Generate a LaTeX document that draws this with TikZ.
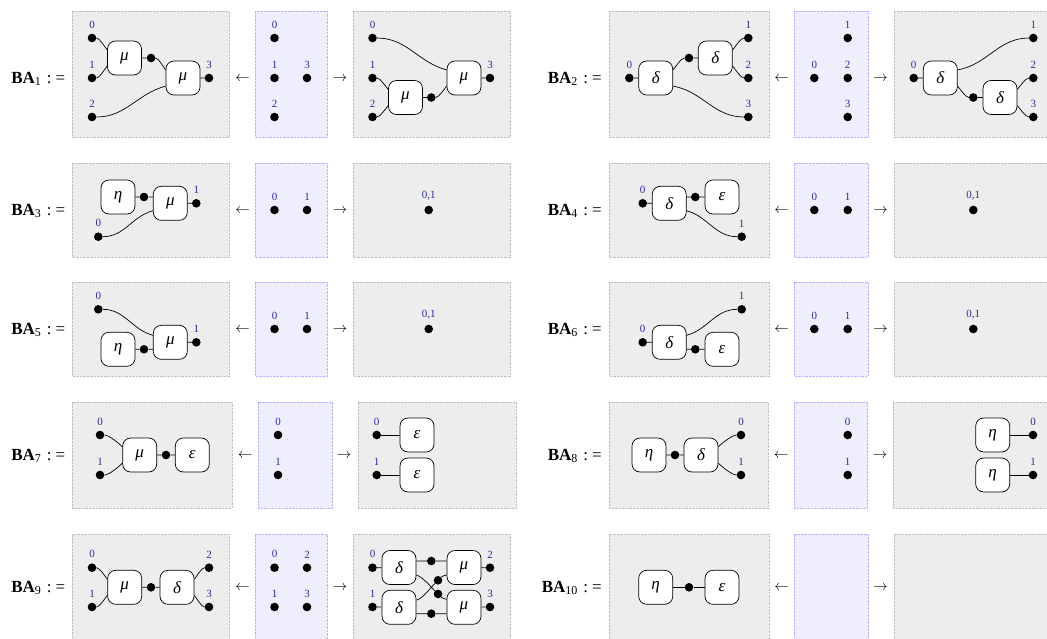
\documentclass[tikz,border=0pt]{standalone}
\usepackage{fontspec}
\setmainfont{Liberation Serif}
\usetikzlibrary{positioning}
\definecolor{panelgray}{HTML}{EDEDED}
\definecolor{panelblue}{HTML}{EEEEFC}
\definecolor{numblue}{HTML}{2B2B9B}
\newcommand{\baname}[1]{\textbf{BA}\raisebox{-2.6pt}{\fontsize{12}{12}\selectfont #1}\kern6pt:\kern4pt=}
\tikzset{
x=1pt, y=-1pt, % one unit is one pixel of the reference
outer/.style={draw=black!25, fill=panelgray, line width=0.9pt, dash pattern=on 2.5pt off 1pt}, % the gray panels
inner/.style={draw=blue!30, fill=panelblue, line width=0.9pt, dash pattern=on 2.5pt off 1pt}, % the blue panels
dot/.style={circle, fill=black, inner sep=0pt, minimum size=8.6pt}, % the black points
box/.style={draw, fill=white, rectangle, rounded corners=8pt, inner sep=0pt, minimum size=34pt, line width=0.7pt, font=\fontsize{17}{20}\selectfont\itshape},
wire/.style={line width=0.7pt},
short/.style={looseness=0.5}, % the wires that leave a dot and enter a box close by
num/.style={text=numblue, inner sep=0pt, font=\fontsize{11}{12}\selectfont},
every label/.style={num},
label distance=5pt,
title/.style={anchor=base east, inner sep=0pt, font=\fontsize{17}{20}\selectfont},
harrow/.style={anchor=base, inner sep=0pt, yshift=0.6pt, font=\fontsize{13.5}{16}\selectfont},
}
\begin{document}
\begin{tikzpicture}
    \useasboundingbox (0,0) rectangle (1047,638);
    % panels
    \draw[outer] (72,11) rectangle (229,137);
    \draw[inner] (255,11) rectangle (327,137);
    \draw[outer] (353,11) rectangle (510,137);
    \draw[outer] (609,11) rectangle (769,137);
    \draw[inner] (794,11) rectangle (868,137);
    \draw[outer] (894,11) rectangle (1054,137);
    \draw[outer] (72,163) rectangle (229,257);
    \draw[inner] (255,163) rectangle (327,257);
    \draw[outer] (353,163) rectangle (510,257);
    \draw[outer] (609,163) rectangle (769,257);
    \draw[inner] (794,163) rectangle (868,257);
    \draw[outer] (894,163) rectangle (1054,257);
    \draw[outer] (72,282) rectangle (229,376);
    \draw[inner] (255,282) rectangle (327,376);
    \draw[outer] (353,282) rectangle (510,376);
    \draw[outer] (609,282) rectangle (769,376);
    \draw[inner] (794,282) rectangle (868,376);
    \draw[outer] (894,282) rectangle (1054,376);
    \draw[outer] (72,402) rectangle (232,508);
    \draw[inner] (258,402) rectangle (332,508);
    \draw[outer] (358,402) rectangle (516,508);
    \draw[outer] (609,402) rectangle (768,508);
    \draw[inner] (794,402) rectangle (867,508);
    \draw[outer] (893,402) rectangle (1054,508);
    \draw[outer] (72,534) rectangle (229,645);
    \draw[inner] (255,534) rectangle (327,645);
    \draw[outer] (353,534) rectangle (510,645);
    \draw[outer] (609,534) rectangle (769,645);
    \draw[inner] (794,534) rectangle (868,645);
    \draw[outer] (894,534) rectangle (1054,645);

    % titles and arrows
    \node[title] (t1) at (65.5,83) {\baname{1}};
    \node[harrow] (l1) at (242.5,82) {$\leftarrow$};
    \node[harrow] (g1) at (340,82) {$\rightarrow$};
    \node[title] (t2) at (602,83) {\baname{2}};
    \node[harrow] (l2) at (781.5,82) {$\leftarrow$};
    \node[harrow] (g2) at (880.5,82) {$\rightarrow$};
    \node[title] (t3) at (65.5,215) {\baname{3}};
    \node[harrow] (l3) at (242.5,214) {$\leftarrow$};
    \node[harrow] (g3) at (340,214) {$\rightarrow$};
    \node[title] (t4) at (602,215) {\baname{4}};
    \node[harrow] (l4) at (781.5,214) {$\leftarrow$};
    \node[harrow] (g4) at (880.5,214) {$\rightarrow$};
    \node[title] (t5) at (65.5,334) {\baname{5}};
    \node[harrow] (l5) at (242.5,333) {$\leftarrow$};
    \node[harrow] (g5) at (340,333) {$\rightarrow$};
    \node[title] (t6) at (602,334) {\baname{6}};
    \node[harrow] (l6) at (781.5,333) {$\leftarrow$};
    \node[harrow] (g6) at (880.5,333) {$\rightarrow$};
    \node[title] (t7) at (65.5,460) {\baname{7}};
    \node[harrow] (l7) at (245,459) {$\leftarrow$};
    \node[harrow] (g7) at (344,459) {$\rightarrow$};
    \node[title] (t8) at (602,460) {\baname{8}};
    \node[harrow] (l8) at (781,459) {$\leftarrow$};
    \node[harrow] (g8) at (880,459) {$\rightarrow$};
    \node[title] (t9) at (65.5,592) {\baname{9}};
    \node[harrow] (l9) at (242.5,591) {$\leftarrow$};
    \node[harrow] (g9) at (340,591) {$\rightarrow$};
    \node[title] (t10) at (602,592) {\baname{10}};
    \node[harrow] (l10) at (781.5,591) {$\leftarrow$};
    \node[harrow] (g10) at (880.5,591) {$\rightarrow$};

    % BA1
    \node[dot, label=above:0] (a0) at (92,38) {};
    \node[dot, label=above:1] (a1) at (92,78) {};
    \node[dot, label=above:2] (a2) at (92,117) {};
    \node[box] (am) at (124.5,58) {μ};
    \node[dot] (ac) at (151,58) {};
    \node[box] (an) at (183,78) {μ};
    \node[dot, label=above:3] (a3) at (209,78) {};
    \draw[wire]
    (a0) to[short, out=0, in=130] (am.155)
    (a1) to[short, out=0, in=230] (am.205)
    (am.east |- ac) -- (ac)
    (ac) to[short, out=0, in=130] (an.155)
    (a2) to[out=0, in=195] (an.205)
    (an) -- (a3);
    \node[dot, label=above:0] (b0) at (274.5,38) {};
    \node[dot, label=above:1] (b1) at (274.5,78) {};
    \node[dot, label=above:2] (b2) at (274.5,117) {};
    \node[dot, label=above:3] (b3) at (307,78) {};
    \node[dot, label=above:0] (c0) at (372.5,38) {};
    \node[dot, label=above:1] (c1) at (372.5,78) {};
    \node[dot, label=above:2] (c2) at (372.5,117) {};
    \node[box] (cm) at (405.5,97.5) {μ};
    \node[dot] (cc) at (431.3,97.5) {};
    \node[box] (cn) at (464,78) {μ};
    \node[dot, label=above:3] (c3) at (490,78) {};
    \draw[wire]
    (c0) to[out=0, in=165] (cn.155)
    (c1) to[short, out=0, in=130] (cm.155)
    (c2) to[short, out=0, in=230] (cm.205)
    (cm) -- (cc)
    (cc) to[short, out=0, in=230] (cn.205)
    (cn) -- (c3);

    % BA2
    \node[dot, label=above:0] (d0) at (629.3,78) {};
    \node[box] (dm) at (655.7,78) {δ};
    \node[dot] (dc) at (689,58) {};
    \node[box] (dn) at (715.3,58) {δ};
    \node[dot, label=above:1] (d1) at (748.3,38) {};
    \node[dot, label=above:2] (d2) at (748.3,78) {};
    \node[dot, label=above:3] (d3) at (748.3,117) {};
    \draw[wire]
    (d0) -- (dm)
    (dm.25) to[short, out=50, in=180] (dc)
    (dc) -- (dn)
    (dn.25) to[short, out=50, in=180] (d1)
    (dn.335) to[short, out=-50, in=180] (d2)
    (dm.335) to[out=-10, in=180] (d3);
    \node[dot, label=above:0] (e0) at (814.3,78) {};
    \node[dot, label=above:1] (e1) at (847.7,38) {};
    \node[dot, label=above:2] (e2) at (847.7,78) {};
    \node[dot, label=above:3] (e3) at (847.7,117) {};
    \node[dot, label=above:0] (f0) at (913.7,78) {};
    \node[box] (fm) at (940.3,78) {δ};
    \node[dot] (fc) at (973.3,97.5) {};
    \node[box] (fn) at (1000,97.5) {δ};
    \node[dot, label=above:1] (f1) at (1033.3,38) {};
    \node[dot, label=above:2] (f2) at (1033.3,78) {};
    \node[dot, label=above:3] (f3) at (1033.3,117) {};
    \draw[wire]
    (f0) -- (fm)
    (fm.25) to[out=10, in=180] (f1)
    (fm.335) to[short, out=-50, in=180] (fc)
    (fc) -- (fn)
    (fn.25) to[short, out=50, in=180] (f2)
    (fn.335) to[short, out=-50, in=180] (f3);

    % BA3
    \node[box] (ge) at (118,197) {η};
    \node[dot] (gc) at (144,197) {};
    \node[box] (gm) at (170.3,203.3) {μ};
    \node[dot, label=above:1] (g1n) at (196.3,203.3) {};
    \node[dot, label=above:0] (g0) at (98.3,236.7) {};
    \draw[wire]
    (ge) -- (gc)
    (gc) -- (gc -| gm.west)
    (g0) to[out=0, in=195] (gm.west |- 0,210.7)
    (gm) -- (g1n);
    \node[dot, label=above:0] (h0) at (274.5,210) {};
    \node[dot, label=above:1] (h1) at (307,210) {};
    \node[dot, label=above:{0,1}] (i0) at (428.7,210) {};

    % BA4
    \node[dot, label=above:0] (j0) at (642.7,203.3) {};
    \node[box] (jm) at (669.2,203.3) {δ};
    \node[dot] (jc) at (695.3,197) {};
    \node[box] (je) at (722,197) {ε};
    \node[dot, label=above:1] (j1) at (741.7,236.7) {};
    \draw[wire]
    (j0) -- (jm)
    (jc -| jm.east) -- (jc)
    (jc) -- (je)
    (jm.east |- 0,210.7) to[out=-15, in=180] (j1);
    \node[dot, label=above:0] (k0) at (814.3,210) {};
    \node[dot, label=above:1] (k1) at (847.7,210) {};
    \node[dot, label=above:{0,1}] (m0) at (973.3,210) {};

    % BA5
    \node[dot, label=above:0] (n0) at (98.3,309.3) {};
    \node[box] (ne) at (118,349.3) {η};
    \node[dot] (nc) at (144,349.3) {};
    \node[box] (nm) at (170.3,342.3) {μ};
    \node[dot, label=above:1] (n1) at (196.3,342.3) {};
    \draw[wire]
    (n0) to[out=0, in=165] (nm.west |- 0,335.3)
    (ne) -- (nc)
    (nc) -- (nc -| nm.west)
    (nm) -- (n1);
    \node[dot, label=above:0] (o0) at (274.5,329) {};
    \node[dot, label=above:1] (o1) at (307,329) {};
    \node[dot, label=above:{0,1}] (p0) at (428.7,329) {};

    % BA6
    \node[dot, label=above:0] (q0) at (642.7,342.3) {};
    \node[box] (qm) at (669.2,342.3) {δ};
    \node[dot] (qc) at (695.3,349.3) {};
    \node[box] (qe) at (722,349.3) {ε};
    \node[dot, label=above:1] (q1) at (741.7,309.3) {};
    \draw[wire]
    (q0) -- (qm)
    (qc -| qm.east) -- (qc)
    (qc) -- (qe)
    (qm.east |- 0,335.3) to[out=15, in=180] (q1);
    \node[dot, label=above:0] (s0) at (814.3,329) {};
    \node[dot, label=above:1] (s1) at (847.7,329) {};
    \node[dot, label=above:{0,1}] (u0) at (973.3,329) {};

    % BA7
    \node[dot, label=above:0] (v0) at (100,435) {};
    \node[dot, label=above:1] (v1) at (100,475) {};
    \node[box] (vm) at (139.7,455) {μ};
    \node[dot] (vc) at (166,455) {};
    \node[box] (ve) at (192.3,455) {ε};
    \draw[wire]
    (v0) to[short, out=0, in=130] (vm.155)
    (v1) to[short, out=0, in=230] (vm.205)
    (vm) -- (vc)
    (vc) -- (ve);
    \node[dot, label=above:0] (w0) at (278,435) {};
    \node[dot, label=above:1] (w1) at (278,475) {};
    \node[dot, label=above:0] (x0) at (376.7,435) {};
    \node[dot, label=above:1] (x1) at (376.7,475) {};
    \node[box] (xe) at (417,435) {ε};
    \node[box] (xf) at (417,475) {ε};
    \draw[wire]
    (x0) -- (xe)
    (x1) -- (xf);

    % BA8
    \node[box] (ye) at (649,455) {η};
    \node[dot] (yc) at (675,455) {};
    \node[box] (ym) at (701,455) {δ};
    \node[dot, label=above:0] (y0) at (741,435) {};
    \node[dot, label=above:1] (y1) at (741,475) {};
    \draw[wire]
    (ye) -- (yc)
    (yc) -- (ym)
    (ym.25) to[short, out=50, in=180] (y0)
    (ym.335) to[short, out=-50, in=180] (y1);
    \node[dot, label=above:0] (z0) at (847.7,435) {};
    \node[dot, label=above:1] (z1) at (847.7,475) {};
    \node[box] (ze) at (992.7,435) {η};
    \node[box] (zf) at (992.7,475) {η};
    \node[dot, label=above:0] (z2) at (1033,435) {};
    \node[dot, label=above:1] (z3) at (1033,475) {};
    \draw[wire]
    (ze) -- (z2)
    (zf) -- (z3);

    % BA9
    \node[dot, label=above:0] (aa0) at (92,567.7) {};
    \node[dot, label=above:1] (aa1) at (92,607) {};
    \node[box] (aam) at (124.7,587.3) {μ};
    \node[dot] (aac) at (151,587.3) {};
    \node[box] (aan) at (177,587.3) {δ};
    \node[dot, label=above:2] (aa2) at (209,567.7) {};
    \node[dot, label=above:3] (aa3) at (209,607) {};
    \draw[wire]
    (aa0) to[short, out=0, in=130] (aam.155)
    (aa1) to[short, out=0, in=230] (aam.205)
    (aam) -- (aac)
    (aac) -- (aan)
    (aan.25) to[short, out=50, in=180] (aa2)
    (aan.335) to[short, out=-50, in=180] (aa3);
    \node[dot, label=above:0] (bb0) at (274.5,567.7) {};
    \node[dot, label=above:1] (bb1) at (274.5,607) {};
    \node[dot, label=above:2] (bb2) at (307,567.7) {};
    \node[dot, label=above:3] (bb3) at (307,607) {};
    \node[dot, label=above:0] (cc0) at (372.5,567.7) {};
    \node[dot, label=above:1] (cc1) at (372.5,607) {};
    \node[box] (ccd) at (399,567.5) {δ};
    \node[box] (cce) at (399,607.3) {δ};
    \node[box] (ccm) at (464,567.5) {μ};
    \node[box] (ccn) at (464,607.3) {μ};
    \node[dot, label=above:2] (cc2) at (490,567.7) {};
    \node[dot, label=above:3] (cc3) at (490,607) {};
    \node[dot] (ccu) at (431.3,561) {};
    \node[dot] (ccv) at (431.3,613.7) {};
    \node[dot] (ccx) at (438,580.3) {};
    \node[dot] (ccy) at (438,594) {};
    \draw[wire]
    (cc0) -- (ccd)
    (cc1) -- (cce)
    (ccm) -- (cc2)
    (ccn) -- (cc3)
    (ccu -| ccd.east) -- (ccu)
    (ccu) -- (ccu -| ccm.west)
    (ccv -| cce.east) -- (ccv)
    (ccv) -- (ccv -| ccn.west)
    (ccd.east |- 0,575.3) to[short, out=0, in=135] (ccy)
    (ccy) to[short, out=-45, in=190] (ccn.west |- 0,599.3)
    (cce.east |- 0,600) to[short, out=0, in=225] (ccx)
    (ccx) to[short, out=45, in=170] (ccm.west |- 0,575);

    % BA10
    \node[box] (dde) at (655.7,587.3) {η};
    \node[dot] (ddc) at (689,587.3) {};
    \node[box] (ddf) at (722,587.3) {ε};
    \draw[wire]
    (dde) -- (ddc)
    (ddc) -- (ddf);
\end{tikzpicture}
\end{document}
